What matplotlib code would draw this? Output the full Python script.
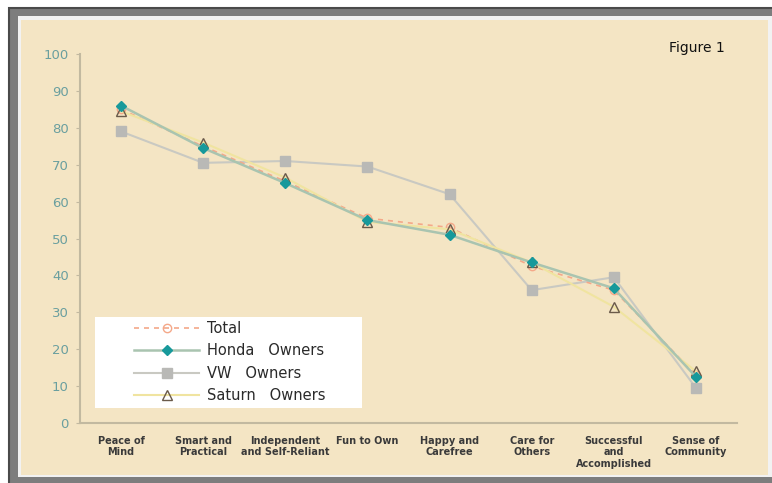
import matplotlib
matplotlib.use("Agg")
import matplotlib.pyplot as plt
from matplotlib.patches import Rectangle

categories = ["Peace of\nMind", "Smart and\nPractical", "Independent\nand Self-Reliant",
              "Fun to Own", "Happy and\nCarefree", "Care for\nOthers",
              "Successful\nand\nAccomplished", "Sense of\nCommunity"]
total = [85, 75, 65.5, 55.5, 53, 42.5, 36, 13]
honda = [86, 74.5, 65, 55, 51, 43.5, 36.5, 12.5]
vw = [79, 70.5, 71, 69.5, 62, 36, 39.5, 9.5]
saturn = [84.5, 76, 66.5, 54.5, 52.5, 43.5, 31.5, 14]
yticks = list(range(0, 101, 10))

W, H = 772, 483
fig = plt.figure(figsize=(W / 100, H / 100), dpi=100)
fig.patch.set_facecolor("white")

# outer frame, inner white strip and beige panel (pixel coords from top-left)
def frect(x0, y0, x1, y1, **kw):
    fig.add_artist(Rectangle((x0 / W, 1 - y1 / H), (x1 - x0) / W, (y1 - y0) / H,
                             transform=fig.transFigure, **kw))

frect(9, 8, 785, 490, facecolor="#7d7d7d", edgecolor="#4a4a4a", lw=1.5, zorder=-6)
frect(18, 16, 775, 477, facecolor="#f2f2f2", edgecolor="none", zorder=-5)
frect(21, 20, 768, 475, facecolor="#f4e5c4", edgecolor="none", zorder=-4)

ax = fig.add_axes([80 / W, 60 / H, 657 / W, 369 / H])
ax.set_facecolor("none")
x = list(range(len(categories)))

ax.plot(x, total, color="#f4a889", ls=(0, (3, 3)), lw=1.2, marker="o", ms=6,
        mfc="none", mec="#f4a889", label="Total", zorder=3)
ax.plot(x, vw, color="#c9c9c2", lw=1.5, marker="s", ms=7, mfc="#b9b9b6",
        mec="#b9b9b6", label="VW   Owners", zorder=2)
ax.plot(x, saturn, color="#f0e4a0", lw=1.5, marker="^", ms=7, mfc="none",
        mec="#6a5a4a", label="Saturn   Owners", zorder=4)
ax.plot(x, honda, color="#a9c4b0", lw=1.8, marker="D", ms=5.5, mfc="#17999b",
        mec="#17999b", label="Honda   Owners", zorder=5)

ax.set_xlim(-0.5, len(categories) - 0.5)
ax.set_ylim(0, 100)
ax.set_yticks(yticks)
ax.set_yticklabels([str(v) for v in yticks], color="#6a9f9f", fontsize=9.5)
ax.set_xticks(x)
ax.set_xticklabels(categories, fontsize=7, fontweight="bold", color="#3a3a3a", va="top")
ax.tick_params(axis="x", length=0, pad=9)
ax.tick_params(axis="y", length=3, color="#c2b9a0", pad=5)
for s in ["top", "right"]:
    ax.spines[s].set_visible(False)
for s in ["left", "bottom"]:
    ax.spines[s].set_color("#c2b9a0")
    ax.spines[s].set_linewidth(1.5)

# white legend background
ax.add_patch(Rectangle((0.0228, 0.0407), 0.406, 0.2466, transform=ax.transAxes,
                       facecolor="white", edgecolor="none", zorder=6))

h, l = ax.get_legend_handles_labels()
order = [0, 3, 1, 2]
leg = ax.legend([h[i] for i in order], [l[i] for i in order],
                loc="upper left", bbox_to_anchor=(0.073, 0.292),
                frameon=False, fontsize=10.5, handlelength=4.5, labelspacing=0.5,
                borderpad=0.4, handletextpad=0.5, borderaxespad=0)
leg.set_zorder(7)
for t in leg.get_texts():
    t.set_color("#2a2a2a")

fig.text(697 / W, 1 - 48 / H, "Figure 1", fontsize=10, color="#111111", ha="center", va="center")

fig.savefig("out.png", dpi=100)
